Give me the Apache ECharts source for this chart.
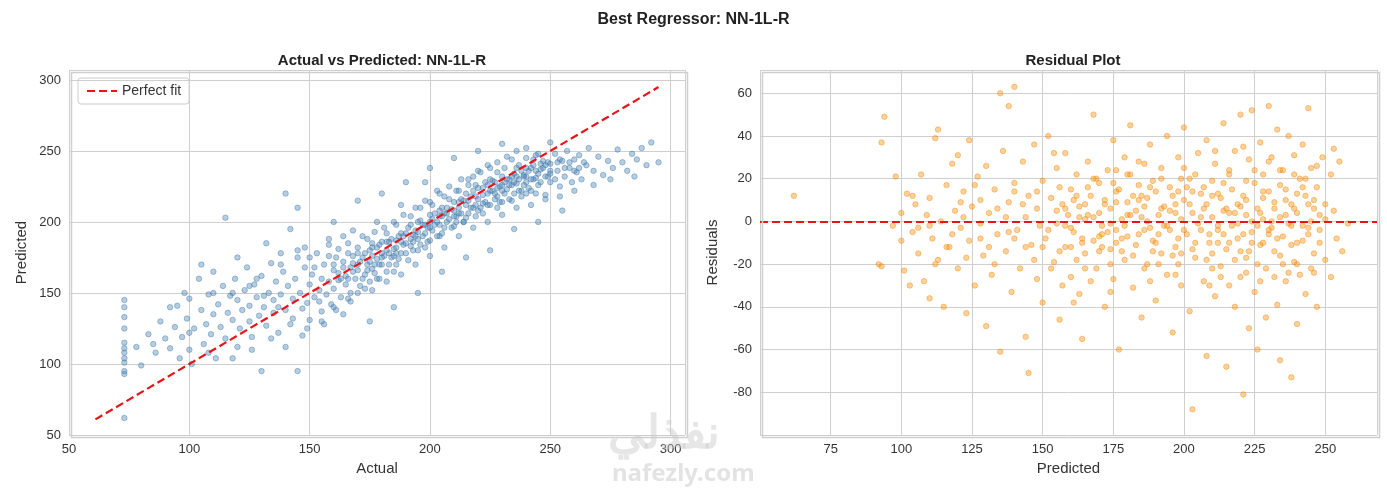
<!DOCTYPE html>
<html>
<head>
<meta charset="utf-8">
<script src="https://cdn.jsdelivr.net/npm/echarts@6/dist/echarts.min.js"></script>
<style>
  html, body { margin: 0; padding: 0; background: #fff; }
  #chart { width: 1387px; height: 493px; }
</style>
</head>
<body>
<div id="chart"></div>
<script>
// Actual vs predicted
const actualPredicted = [
  [73,62],[73,93],[73,95],[73,101],[73,104],[73,108],[73,111],[73,115],[73,125],[73,133],[73,140],[73,145],
  [78,112],[80,99],[83,121],[85,114],[86,108],[88,130],[90,118],[92,111],[94,126],[95,141],[96,104],[97,119],
  [98,150],[99,132],[100,110],[100,146],[101,100],[102,125],[104,160],[105,138],[106,114],[107,128],[108,149],
  [109,121],[110,165],[110,135],[111,104],[112,142],[113,126],[114,155],[115,118],[115,203],[116,136],[117,148],
  [118,131],[119,160],[120,112],[120,145],[121,125],[122,138],[123,152],[124,168],[125,130],[125,141],[126,119],
  [127,156],[128,147],[129,134],[130,162],[130,95],[131,140],[132,127],[133,150],[134,171],[135,136],[135,145],
  [136,158],[137,122],[138,149],[139,165],[140,220],[140,138],[141,155],[142,128],[143,146],[144,160],[145,210],
  [145,95],[145,175],[146,150],[147,139],[148,168],[149,143],[150,156],[150,131],[151,163],[152,147],[153,178],
  [154,152],[155,160],[155,137],[156,170],[157,149],[158,184],[158,158],[159,142],[160,166],[160,153],[161,175],
  [162,159],[163,147],[164,190],[164,168],[165,156],[165,162],[166,178],[167,150],[168,171],[169,160],[170,182],
  [170,166],[171,155],[172,175],[173,163],[174,188],[174,170],[175,158],[175,180],[176,167],[177,193],[178,174],
  [178,160],[179,184],[180,170],[180,178],[181,196],[182,165],[183,186],[184,175],[185,200],[185,181],[186,170],
  [187,190],[188,178],[189,205],[190,185],[190,192],[191,173],[192,198],[193,186],[194,210],[195,193],[195,180],
  [196,201],[197,190],[198,215],[199,196],[200,205],[200,187],[201,212],[202,198],[203,222],[204,204],[205,192],
  [205,210],[206,218],[207,200],[208,225],[209,209],[210,214],[210,197],[211,222],[212,206],[213,230],[214,215],
  [215,203],[215,220],[216,226],[217,210],[218,232],[219,218],[220,224],[220,208],[221,235],[222,219],[223,228],
  [224,212],[225,238],[225,222],[226,229],[227,216],[228,242],[229,225],[230,232],[230,214],[231,238],[232,223],
  [233,230],[234,244],[235,220],[235,234],[236,227],[237,240],[238,218],[239,233],[240,245],[240,228],[241,236],
  [242,222],[243,240],[244,231],[245,248],[245,226],[246,237],[247,243],[248,219],[249,232],[250,241],[250,228],
  [252,248],[253,236],[254,225],[255,243],[256,232],[257,250],[258,238],[259,228],[260,244],[261,235],[262,247],
  [263,230],[265,240],[266,252],[268,236],[270,246],[272,233],[274,243],[276,238],[278,251],[280,242],[282,236],
  [284,248],[286,244],[288,252],[290,240],[292,256],[295,242],
  [152,168],[158,176],[162,181],[166,185],[172,190],[176,185],[182,192],[186,198],[192,204],[196,210],[200,214],
  [204,220],[208,216],[212,222],[216,230],[220,236],[224,240],[228,235],[232,246],[236,250],[240,238],[244,247],
  [154,144],[160,140],[166,146],[170,150],[176,152],[182,158],[188,163],[194,170],[200,176],[206,182],[212,190],
  [218,196],[224,200],[230,205],[236,210],[242,212],[248,216],[254,218],[260,222],[268,226],[275,230],[285,232],
  [150,175],[145,180],[138,178],[132,185],[142,195],[160,200],[170,215],[180,220],[190,228],[200,238],[175,130],
  [185,140],[195,150],[205,165],[215,175],[225,180],[235,195],[245,200],[255,208],[120,175],[110,150],[105,170],
  [92,140],[100,122],[108,108],[118,104],[126,110],[134,118],[140,112],[147,120],[156,128],[164,135],[210,245],
  [220,250],[230,255],[240,252],[250,256],[198,228],[188,212],[178,200],[168,194],[158,188],[148,182],[138,170],
  [128,160],[118,150],[198,182],[204,190],[214,200],[222,206],[228,210],[234,215],[238,222],[244,220],[250,236],
  [185,165],[179,160],[173,153],[167,144],[161,138],[155,130],[149,125],[143,132],[137,140],[131,148],[125,155],
  [186,187],[193,191],[203,200],[211,204],[219,212],[227,220],[233,226],[239,232],[247,238],[253,242],[262,238]
];
// Extra points in the dense core of the left panel
const actualPredictedCore = [
  [160,170],[162,164],[164,172],[166,160],[168,176],[170,170],[172,160],[173,178],[175,172],[176,176],[177,164],
  [178,182],[179,170],[180,186],[181,176],[182,180],[183,170],[184,188],[185,176],[186,182],[187,174],[188,192],
  [189,184],[190,178],[191,196],[192,188],[193,180],[194,194],[195,188],[196,184],[197,198],[198,192],[199,186],
  [200,200],[201,194],[202,206],[203,190],[204,198],[205,204],[206,196],[207,210],[208,202],[209,196],[210,208],
  [211,200],[212,214],[213,206],[214,200],[215,212],[216,206],[217,218],[218,210],[219,204],[220,216],[221,210],
  [222,224],[223,214],[224,220],[225,212],[226,222],[227,228],[228,218],[229,214],[230,226],[231,220],[232,230],
  [233,216],[234,226],[235,228],[236,232],[237,222],[238,236],[239,226],[240,232],[241,224],[242,238],[243,230],
  [244,236],[245,234],[246,228],[248,240],[250,234],[252,230],[254,244],[256,238],[258,242],[260,236],[264,242],
  [168,165],[174,166],[180,175],[186,178],[192,183],[198,198],[204,208],[210,204],[216,215],[222,213],[228,224],
  [234,232],[240,220],[246,241],[170,178],[176,182],[182,186],[188,186],[194,190],[200,196],[206,206],[212,210],
  [218,222],[224,226],[230,222],[236,238],[242,230],[248,232],[163,160],[167,168],[171,172],[177,170],[183,178],
  [189,190],[195,200],[201,202],[207,206],[213,216],[219,226],[225,230],[231,228],[237,230],[243,244],[249,242]
];
// Predicted vs residual
const predictedResidual = [
  [62,12],[92,-20],[93,-21],[93,37],[94,49],[97,-2],[98,21],[100,-9],[100,4],[101,-23],[102,13],[103,-30],
  [104,-5],[105,8],[106,-15],[107,22],[108,-28],[109,3],[110,-36],[110,11],[111,-8],[112,39],[113,43],[113,-18],
  [114,0],[115,-40],[116,17],[117,-12],[118,27],[119,5],[120,-22],[120,31],[121,-3],[122,14],[123,-43],[124,-9],
  [124,38],[125,7],[126,-30],[127,21],[128,-1],[129,-16],[130,26],[130,-49],[131,4],[132,-25],[133,15],[134,-6],
  [135,60],[135,-61],[136,33],[137,-14],[138,54],[138,9],[139,-33],[140,63],[140,18],[141,-4],[142,-22],[143,28],
  [144,-54],[144,2],[145,-71],[145,12],[146,-11],[147,36],[148,-27],[148,6],[149,-2],[150,19],[150,-38],[151,-8],
  [152,40],[153,11],[154,-19],[155,-1],[155,25],[156,-46],[157,8],[158,-12],[158,32],[159,3],[160,-26],[160,15],
  [161,-5],[162,22],[163,-34],[163,7],[164,-55],[165,1],[165,-15],[166,28],[167,12],[168,-9],[168,50],[169,-22],
  [170,4],[170,18],[171,-2],[172,-40],[172,10],[173,24],[174,-13],[174,6],[175,38],[175,-27],[176,-4],[177,15],
  [177,-60],[178,1],[179,30],[179,-18],[180,9],[180,-7],[181,45],[181,22],[182,-31],[183,5],[183,-11],[184,17],
  [185,-45],[185,2],[186,27],[187,-20],[187,11],[188,-3],[188,36],[189,-9],[190,14],[190,-37],[191,3],[192,-15],
  [192,25],[193,7],[194,-25],[194,40],[195,-4],[195,16],[196,-52],[197,8],[197,-12],[198,30],[199,1],[199,-30],
  [200,44],[200,10],[201,-6],[202,20],[202,-42],[203,-88],[203,4],[204,-17],[205,32],[205,-1],[206,13],[207,-28],
  [207,6],[208,-63],[208,38],[209,-10],[210,19],[210,2],[211,-35],[211,27],[212,-4],[213,11],[213,-21],[214,46],
  [214,5],[215,-13],[215,-68],[216,24],[217,-2],[217,15],[218,-40],[218,33],[219,8],[219,-8],[220,50],[220,-26],
  [221,-81],[221,12],[222,3],[222,-17],[223,29],[223,-50],[224,52],[224,-5],[225,18],[225,-33],[226,6],[226,-60],
  [227,37],[227,-11],[228,1],[228,22],[229,-22],[229,-45],[230,14],[230,54],[231,-3],[231,30],[232,-14],[232,9],
  [233,-39],[233,43],[234,2],[234,-65],[235,24],[235,-7],[236,-28],[236,15],[237,40],[237,-1],[238,-73],[238,8],
  [239,-19],[239,31],[240,4],[240,-48],[241,20],[242,-9],[242,36],[243,-34],[243,12],[244,53],[244,-3],[245,-22],
  [245,25],[246,6],[247,-40],[247,16],[248,-10],[249,30],[250,1],[250,-18],[252,-26],[252,22],[253,34],[253,5],
  [254,-8],[255,28],[256,-14],[258,-1],
  [150,-12],[153,-22],[156,16],[158,-2],[161,10],[164,-8],[166,3],[169,20],[171,-12],[173,-5],[176,9],[178,-14],
  [182,12],[184,-6],[186,7],[189,19],[191,-20],[193,-2],[196,12],[198,-8],[201,16],[203,-13],[206,-4],[208,8],
  [210,-15],[212,13],[214,-6],[216,4],[218,-18],[220,7],[222,19],[224,-10],[226,-2],[228,11],[230,-6],[232,-26],
  [234,17],[236,3],[238,-11],[240,13],[242,-2],[244,8],[246,-15],[248,3],[231,0],[223,-14],[219,-1],[212,-10],
  [207,16],[199,-15],[195,5],[187,0],[181,3],[176,-10],[170,-7],[165,8],[160,-12],[155,5],[147,-18],[143,8],
  [138,-5],[133,-20],[128,10],[123,-17],[118,-6],[112,-20],[106,-3],[176,24],[184,28],[197,-25],[209,-30],
  [216,-30],[227,-28],[235,-20],[241,-25],[167,-28],[161,-38],[154,32],[148,14],[140,-8],[137,2],[131,-12],
  [126,17],[121,9],[157,-30],[174,-33],[188,-28],[200,25],[211,33],[221,35],[230,28],[239,22],[247,26]
];
// Extra points in the dense core of the right panel
const predictedResidualCore = [
  [158,6],[160,-3],[162,12],[164,-10],[166,16],[168,2],[170,-14],[172,8],[174,-1],[176,14],[178,-8],[180,3],
  [182,-16],[184,10],[186,-4],[188,16],[190,-10],[192,6],[194,-2],[196,-16],[198,14],[200,-4],[202,8],[204,-10],
  [206,2],[208,-18],[210,12],[212,-2],[214,18],[216,-10],[218,4],[220,-14],[222,10],[224,0],[226,-20],[228,14],
  [230,-4],[232,6],[234,-16],[236,10],[238,-2],[240,-10],[242,16],[244,-6],[246,10],[248,-4],[250,8],[162,-18],
  [168,20],[174,-20],[180,22],[186,-22],[192,20],[198,-20],[204,22],[210,-22],[216,22],[222,-24],[228,-10],
  [234,24],[240,-20],[246,-24],[163,2],[171,-6],[179,-2],[185,12],[191,-6],[197,4],[203,14],[209,-6],[215,6],
  [221,-6],[227,4],[233,-8],[239,6],[245,0],[165,-22],[175,18],[189,-14],[199,20],[213,-26],[225,24],[237,-24],
  [243,20],[152,-4],[156,-14],[144,-12],[140,14],[134,6],[128,-8],[122,2],[116,-12],[110,-2],[104,12]
];
const fitLine = [[61, 61], [295, 295]];

const chart = echarts.init(document.getElementById('chart'));
const font = 'Liberation Sans, Arial, sans-serif';
const axisCommon = {
  axisLine: { show: false },
  axisTick: { show: false },
  axisLabel: { color: '#333', fontSize: 13, fontFamily: font },
  splitLine: { lineStyle: { color: '#cfcfcf', width: 1 } },
  nameTextStyle: { color: '#333', fontSize: 15, fontFamily: font },
  nameLocation: 'middle'
};
const blue = { color: 'rgba(70,130,180,0.5)', borderColor: 'rgba(60,115,165,0.75)', borderWidth: 0.7 };
const orange = { color: 'rgba(255,140,0,0.5)', borderColor: 'rgba(240,130,0,0.7)', borderWidth: 0.7 };
chart.setOption({
  backgroundColor: '#fff',
  animation: false,
  title: [
    { text: 'Best Regressor: NN-1L-R', left: 'center', top: 7, textStyle: { fontSize: 16, fontWeight: 'bold', color: '#222', fontFamily: font } },
    { text: 'Actual vs Predicted: NN-1L-R', left: 377, top: 48, textAlign: 'center', textStyle: { fontSize: 15, fontWeight: 'bold', color: '#222', fontFamily: font } },
    { text: 'Residual Plot', left: 1068, top: 48, textAlign: 'center', textStyle: { fontSize: 15, fontWeight: 'bold', color: '#222', fontFamily: font } }
  ],
  legend: {
    left: 78, top: 78, data: ['Perfect fit'],
    borderColor: '#ccc', borderWidth: 1, borderRadius: 3, padding: [6, 8],
    itemWidth: 30, itemHeight: 2,
    textStyle: { color: '#333', fontSize: 14, fontFamily: font }
  },
  graphic: [
    { type: 'rect', left: 69, top: 70, shape: { width: 616, height: 365 }, style: { fill: 'none', stroke: '#cfcfcf', lineWidth: 1.5 }, z: 10 },
    { type: 'rect', left: 760, top: 70, shape: { width: 617, height: 365 }, style: { fill: 'none', stroke: '#cfcfcf', lineWidth: 1.5 }, z: 10 },
    { type: 'text', left: 608, top: 412, style: { text: 'نفذلي', fill: 'rgba(200,200,200,0.45)', font: 'bold 46px Noto Sans, sans-serif' }, z: 20 },
    { type: 'text', left: 612, top: 462, style: { text: 'nafezly.com', fill: 'rgba(200,200,200,0.5)', font: 'bold 24px Noto Sans, sans-serif' }, z: 20 }
  ],
  grid: [
    { left: 69, top: 70, width: 616, height: 365 },
    { left: 760, top: 70, width: 617, height: 365 }
  ],
  xAxis: [
    Object.assign({}, axisCommon, { gridIndex: 0, type: 'value', min: 50, max: 306, interval: 50, name: 'Actual', nameGap: 26,
      axisLabel: Object.assign({}, axisCommon.axisLabel, { formatter: v => (v <= 300 ? v : '') }) }),
    Object.assign({}, axisCommon, { gridIndex: 1, type: 'value', min: 50, max: 268.3, interval: 25, name: 'Predicted', nameGap: 26,
      axisLabel: Object.assign({}, axisCommon.axisLabel, { formatter: v => (v >= 75 && v <= 250 ? v : '') }) })
  ],
  yAxis: [
    Object.assign({}, axisCommon, { gridIndex: 0, type: 'value', min: 50, max: 307, interval: 50, name: 'Predicted', nameGap: 40,
      axisLabel: Object.assign({}, axisCommon.axisLabel, { formatter: v => (v <= 300 ? v : '') }) }),
    Object.assign({}, axisCommon, { gridIndex: 1, type: 'value', min: -100, max: 70.9, interval: 20, name: 'Residuals', nameGap: 40,
      axisLabel: Object.assign({}, axisCommon.axisLabel, { formatter: v => (v >= -80 && v <= 60 ? v : '') }) })
  ],
  series: [
    { type: 'scatter', xAxisIndex: 0, yAxisIndex: 0, data: actualPredicted, symbolSize: 5.5, itemStyle: blue },
    { type: 'scatter', xAxisIndex: 0, yAxisIndex: 0, data: actualPredictedCore, symbolSize: 5.5, itemStyle: blue },
    { type: 'line', name: 'Perfect fit', xAxisIndex: 0, yAxisIndex: 0, data: fitLine, symbol: 'none',
      lineStyle: { color: '#e8141a', width: 2.2, type: [8, 4] }, itemStyle: { color: '#e8141a' }, z: 5 },
    { type: 'scatter', xAxisIndex: 1, yAxisIndex: 1, data: predictedResidual, symbolSize: 5.5, itemStyle: orange },
    { type: 'scatter', xAxisIndex: 1, yAxisIndex: 1, data: predictedResidualCore, symbolSize: 5.5, itemStyle: orange,
      markLine: { silent: true, symbol: 'none', label: { show: false },
        lineStyle: { color: '#e8141a', width: 2.2, type: [8, 4] }, data: [{ yAxis: 0 }] } }
  ]
});
</script>
</body>
</html>
